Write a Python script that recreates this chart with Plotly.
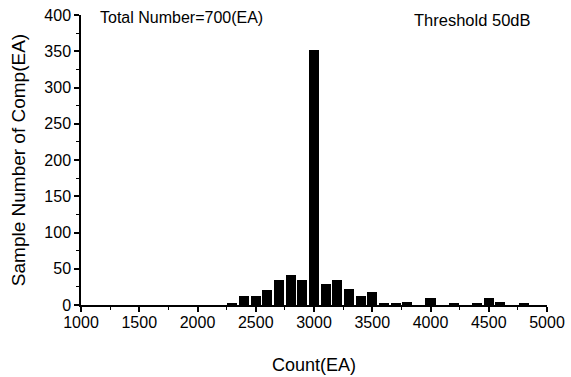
import plotly.graph_objects as go

# Histogram of component counts (bin centres, 100 EA bins)
count_bins = [2300, 2400, 2500, 2600, 2700, 2800, 2900, 3000, 3100, 3200, 3300,
              3400, 3500, 3600, 3700, 3800, 4000, 4200, 4400, 4500, 4600, 4800]
sample_counts = [2, 12, 12, 21, 34, 41, 35, 352, 29, 34, 22,
                 12, 18, 3, 2, 4, 9, 2, 3, 10, 4, 3]

x_ticks = [1000, 1500, 2000, 2500, 3000, 3500, 4000, 4500, 5000]
y_ticks = [0, 50, 100, 150, 200, 250, 300, 350, 400]

FONT = "Arial, Liberation Sans, sans-serif"

fig = go.Figure(
    go.Bar(
        x=count_bins,
        y=sample_counts,
        width=86,
        marker=dict(color="black", line=dict(width=0)),
    )
)

axis_common = dict(
    showgrid=False,
    zeroline=False,
    showline=True,
    automargin=False,
    linecolor="black",
    linewidth=1.5,
    ticks="outside",
    tickcolor="black",
    tickwidth=1.5,
    ticklen=5,
    tickfont=dict(family=FONT, size=16, color="black"),
)

fig.update_xaxes(
    range=[1000, 5000],
    tickvals=x_ticks,
    ticktext=[str(v) for v in x_ticks],
    ticklabelstandoff=-3,
    minor=dict(ticks="outside", dtick=250, ticklen=3, tickcolor="black", tickwidth=1),
    title=dict(text="Count(EA)", font=dict(family=FONT, size=18, color="black"), standoff=28),
    **axis_common,
)
fig.update_yaxes(
    range=[0, 400],
    tickvals=y_ticks,
    ticktext=[str(v) for v in y_ticks],
    minor=dict(ticks="outside", dtick=25, ticklen=3, tickcolor="black", tickwidth=1),
    title=dict(text="Sample Number of Comp(EA)", font=dict(family=FONT, size=19, color="black"), standoff=14),
    **axis_common,
)

fig.add_annotation(
    x=0.036, y=0.99, xref="paper", yref="paper",
    text="Total Number=700(EA)", showarrow=False,
    xanchor="left", yanchor="middle",
    font=dict(family=FONT, size=16, color="black"),
)
fig.add_annotation(
    x=0.71, y=0.983, xref="paper", yref="paper",
    text="Threshold 50dB", showarrow=False,
    xanchor="left", yanchor="middle",
    font=dict(family=FONT, size=16.5, color="black"),
)

fig.update_layout(
    width=571,
    height=377,
    margin=dict(l=81, r=24, t=15, b=72, autoexpand=False),
    paper_bgcolor="white",
    plot_bgcolor="white",
    showlegend=False,
    bargap=0,
)

fig.write_html("out.html")
